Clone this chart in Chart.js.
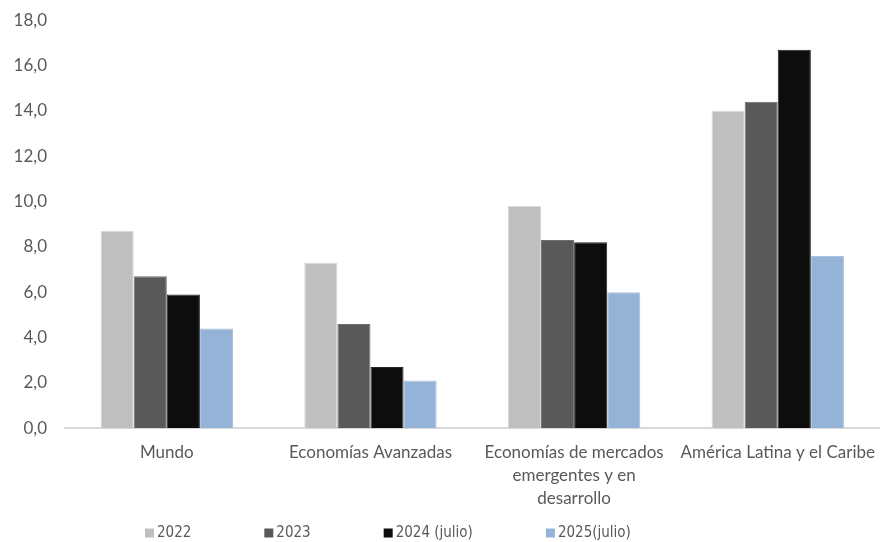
<!DOCTYPE html>
<html>
<head>
<meta charset="utf-8">
<script src="https://cdn.jsdelivr.net/npm/chart.js@4"></script>
<style>
  html, body { margin: 0; padding: 0; background: #fff; }
  #wrap { width: 880px; height: 542px; }
</style>
</head>
<body>
<div id="wrap"><canvas id="growthChart" width="880" height="542"></canvas></div>
<script>
const categories = [
    'Mundo',
    'Economías Avanzadas',
    ['Economías de mercados', 'emergentes y en', 'desarrollo'],
    'América Latina y el Caribe'
];
const seriesNames = ['2022', '2023', '2024 (julio)', '2025(julio)'];
const values2022 = [8.7, 7.3, 9.8, 14.0];
const values2023 = [6.7, 4.6, 8.3, 14.4];
const values2024 = [5.9, 2.7, 8.2, 16.7];
const values2025 = [4.4, 2.1, 6.0, 7.6];
const yTicks = [0, 2, 4, 6, 8, 10, 12, 14, 16, 18];

const fillColors = ['#bfbfbf', '#595959', '#0d0d0d', '#95b3d7'];
const edgeColors = ['#d9d9d9', '#6e6e6e', '#262626', '#a9c1de'];

// Excel-style legend: small squares, wide gaps, one row under the axis labels
const wideLegend = {
    id: 'wideLegend',
    afterDraw(chart, args, opts) {
    const c = chart.ctx;
    c.save();
    c.font = opts.font;
    c.textBaseline = 'middle';
    let x = opts.startX;
    const mid = opts.y;
    chart.data.datasets.forEach(ds => {
        c.fillStyle = ds.backgroundColor;
        c.fillRect(x, mid - opts.box / 2, opts.box, opts.box);
        x += opts.box + opts.textGap;
        c.fillStyle = opts.color;
        c.fillText(ds.label, x, mid);
        x += c.measureText(ds.label).width + opts.itemGap;
    });
    c.restore();
    }
};

const ctx = document.getElementById('growthChart').getContext('2d');

const data = {
    labels: categories,
    datasets: [values2022, values2023, values2024, values2025].map((vals, i) => ({
        label: seriesNames[i],
        data: vals,
        backgroundColor: fillColors[i],
        borderColor: edgeColors[i],
        borderWidth: 1,
        categoryPercentage: 0.65,
        barPercentage: 1.0
    }))
};

const config = {
    type: 'bar',
    data: data,
    plugins: [wideLegend],
    options: {
    responsive: false,
    animation: false,
    layout: {
        padding: { top: 16, right: 0, bottom: 27, left: 0 }
    },
    plugins: {
        tooltip: { enabled: false },
        legend: { display: false },
        wideLegend: {
        font: "15px 'Liberation Sans Narrow', 'DejaVu Sans Condensed', sans-serif",
        color: '#595959',
        startX: 145,
        y: 533,
        box: 9,
        textGap: 3,
        itemGap: 73
        }
    },
    scales: {
        y: {
        min: 0,
        max: 18,
        afterBuildTicks: scale => { scale.ticks = yTicks.map(v => ({ value: v })); },
        afterFit: scale => { scale.width = 65; },
        grid: { display: false },
        border: { display: false },
        ticks: {
            color: '#595959',
            font: { family: 'Lato', size: 17 },
            padding: 10,
            callback: v => v.toFixed(1).replace('.', ',')
        }
        },
        x: {
        grid: { display: false },
        border: { color: '#d9d9d9', width: 2 },
        ticks: {
            color: '#595959',
            font: { family: 'Lato', size: 17, lineHeight: 1.35 },
            maxRotation: 0,
            autoSkip: false,
            padding: 5
        }
        }
    }
    }
};

const growthChart = new Chart(ctx, config);
</script>
</body>
</html>
